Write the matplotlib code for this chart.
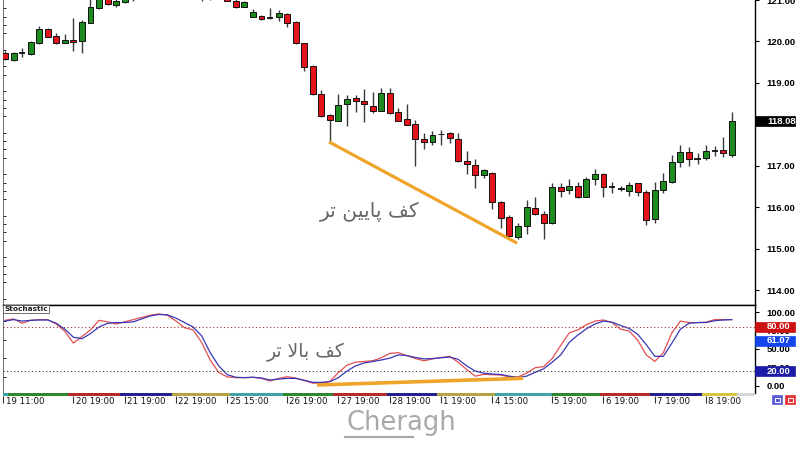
import matplotlib
matplotlib.use("Agg")
import matplotlib.pyplot as plt
import matplotlib.transforms as mtransforms
from matplotlib.patches import Rectangle
from matplotlib.lines import Line2D
from matplotlib.ticker import MultipleLocator, FixedFormatter

# --- candle data (4h bars, index 0 = 19 11:00) ---
opens = [119.73, 119.55, 119.72, 119.69, 119.96, 120.29, 120.13, 119.97, 120.04, 120.00,
         120.45, 120.80, 121.05, 120.88, 120.96, 121.05, 121.15, 121.25, 121.32, 121.28,
         121.20, 121.15, 121.12, 121.08, 121.07, 121.06, 121.05, 120.98, 120.84, 120.60,
         120.62, 120.56, 120.58, 120.66, 120.48, 119.96, 119.41, 118.73, 118.23, 118.09,
         118.49, 118.63, 118.57, 118.45, 118.33, 118.77, 118.29, 118.13, 118.01, 117.65,
         117.57, 117.78, 117.80, 117.64, 117.12, 117.02, 116.78, 116.82, 116.13, 115.76,
         115.30, 115.55, 115.98, 115.84, 115.62, 116.49, 116.41, 116.52, 116.26, 116.69,
         116.81, 116.49, 116.46, 116.40, 116.58, 116.38, 115.72, 116.42, 116.62, 117.10,
         117.34, 117.16, 117.19, 117.37, 117.39, 117.27]
highs = [119.76, 119.74, 119.84, 120.00, 120.37, 120.33, 120.20, 120.17, 120.57, 120.53,
         121.05, 121.15, 121.10, 121.05, 121.10, 121.20, 121.30, 121.40, 121.42, 121.35,
         121.30, 121.25, 121.20, 121.15, 121.14, 121.18, 121.10, 121.05, 120.97, 120.78,
         120.64, 120.80, 120.76, 120.68, 120.49, 119.97, 119.43, 118.83, 118.26, 118.73,
         118.71, 118.71, 118.85, 118.79, 118.87, 118.87, 118.39, 118.49, 118.11, 117.79,
         117.85, 117.87, 117.83, 117.79, 117.36, 117.16, 116.92, 116.86, 116.15, 115.82,
         115.63, 116.18, 116.26, 115.92, 116.58, 116.58, 116.68, 116.62, 116.74, 116.92,
         116.84, 116.61, 116.52, 116.62, 116.59, 116.42, 116.62, 116.84, 117.27, 117.51,
         117.45, 117.31, 117.51, 117.47, 117.71, 118.31]
lows = [119.55, 119.53, 119.62, 119.67, 119.93, 120.10, 119.93, 119.96, 119.77, 119.72,
        120.44, 120.78, 120.88, 120.84, 120.93, 120.97, 121.08, 121.18, 121.22, 121.15,
        121.10, 121.06, 121.04, 120.98, 120.99, 121.03, 120.97, 120.80, 120.83, 120.58,
        120.53, 120.55, 120.50, 120.36, 119.93, 119.30, 118.70, 118.18, 117.59, 118.08,
        117.97, 118.31, 118.07, 118.28, 118.32, 118.26, 118.08, 117.98, 117.00, 117.40,
        117.51, 117.51, 117.55, 117.10, 116.80, 116.46, 116.70, 115.96, 115.51, 115.30,
        115.24, 115.35, 115.83, 115.24, 115.61, 116.26, 116.33, 116.22, 116.25, 116.54,
        116.25, 116.36, 116.40, 116.28, 116.28, 115.58, 115.62, 116.36, 116.60, 116.97,
        117.00, 117.05, 117.14, 117.24, 117.21, 117.21]
closes = [119.58, 119.72, 119.71, 119.98, 120.29, 120.12, 119.97, 120.04, 119.99, 120.48,
          120.84, 121.02, 120.90, 120.98, 121.05, 121.15, 121.25, 121.32, 121.28, 121.20,
          121.15, 121.12, 121.08, 121.07, 121.06, 121.10, 120.98, 120.84, 120.95, 120.72,
          120.54, 120.56, 120.68, 120.45, 119.96, 119.39, 118.73, 118.20, 118.12, 118.47,
          118.61, 118.57, 118.49, 118.33, 118.77, 118.27, 118.09, 117.99, 117.64, 117.59,
          117.75, 117.76, 117.67, 117.12, 117.04, 116.78, 116.90, 116.13, 115.75, 115.32,
          115.55, 116.00, 115.84, 115.62, 116.49, 116.40, 116.52, 116.25, 116.68, 116.81,
          116.49, 116.49, 116.44, 116.54, 116.38, 115.70, 116.42, 116.65, 117.10, 117.33,
          117.16, 117.16, 117.37, 117.37, 117.31, 118.08]

# --- stochastic (%K red, %D blue) per bar ---
stoch_k = [89, 91, 85, 89, 90, 90, 84, 74, 58, 67, 76, 89, 87, 84, 87, 90, 93, 96, 97.7, 96,
           88, 79, 76, 59, 35, 18, 12, 11, 11, 11.5, 10, 6.4, 10, 12.3, 10.5, 7, 3.5, 3.5, 6, 18,
           28, 32, 33, 34, 38, 44, 45, 41, 37, 34, 36.5, 38.5, 40, 32, 22, 13, 15.5, 15, 14.5, 12,
           12, 17, 24.5, 26, 37, 55, 72, 76, 83, 88, 89.5, 86, 77, 74.5, 62, 42, 33, 45, 72, 88,
           86, 86, 86.5, 90, 90, 90]
stoch_d = [88, 90, 88, 89, 89.5, 89.5, 85, 77, 66, 64, 71, 80, 85, 86, 86, 87, 91, 95, 97, 96.5,
           92, 86, 80, 68, 45, 27, 15, 11.5, 11, 11.5, 10.5, 7.8, 9, 10, 10, 7.5, 4.6, 4.6, 5.5, 11,
           20, 27, 31, 33, 35, 37.5, 42, 41, 38.5, 36.5, 37, 38, 39, 36, 27, 20, 17, 16, 15.3, 13,
           11.3, 13, 18.2, 23, 32, 42, 59, 69, 77.5, 84, 88, 86.5, 82, 78, 70, 56, 40, 40, 58, 77,
           85, 86, 86, 88.5, 89.5, 90]

price_ticks = [114, 115, 116, 117, 118, 119, 120, 121]
price_tick_labels = ["114.00", "115.00", "116.00", "117.00", "", "119.00", "120.00", "121.00"]
stoch_ticks = [0, 25, 50, 75, 100]
stoch_tick_labels = ["0.00", "25.00", "50.00", "75.00", "100.00"]

day_labels = ["19 11:00", "20 19:00", "21 19:00", "22 19:00", "25 15:00", "26 19:00", "27 19:00",
              "28 19:00", "1 19:00", "4 15:00", "5 19:00", "6 19:00", "7 19:00", "8 19:00"]
day_pos = [-0.2, 8, 14, 20, 26, 33, 39, 45, 51, 57, 64, 70, 76, 82]

session_edges = [-0.25, 0.35, 7.4, 13.45, 19.5, 26.3, 32.5, 38.4, 44.7, 50.5, 57.3, 64.0,
                 69.6, 75.4, 81.5, 85.6, 87.8]
session_colors = ["#3ea3ad", "#2c8a2c", "#b52a2a", "#22228f", "#b4a444", "#3ea3ad", "#2c8a2c",
                  "#b52a2a", "#22228f", "#b4a444", "#3ea3ad", "#2c8a2c", "#b52a2a", "#22228f",
                  "#d8c63e", "#d6d6d6"]

last_price = 118.08
stoch_marks = [80.00, 61.07, 20.00]
stoch_mark_colors = ["#cc1111", "#1446ee", "#1c1ca6"]

# Persian labels, written as presentation forms in visual order (matplotlib has no shaping)
lower_low = "\uFEAE\uFE97 \uFEE6\uFBFF\uFBFE\uFE8E\uFB58 \uFED2\uFB90"   # کف پایین تر
higher_low = "\uFEAE\uFE97 \uFEFB\uFE8E\uFE91 \uFED2\uFB90"              # کف بالا تر

GREEN = "#1f8a1f"
RED = "#e3141b"
ORANGE = "#eea52a"
LABEL_FONT = dict(family="Liberation Sans", fontweight="bold", fontsize=6.8)

fig = plt.figure(figsize=(8, 4.5), dpi=100)
W, H = 800.0, 450.0
x0, x1 = 3, 755
ax = fig.add_axes([x0 / W, 1 - 305 / H, (x1 - x0) / W, 305 / H])
ax2 = fig.add_axes([x0 / W, 1 - 393 / H, (x1 - x0) / W, 88 / H])
axb = fig.add_axes([x0 / W, 1 - 396 / H, (x1 - x0) / W, 3 / H])

xlim = (-0.234, 87.72)
box_w = 40 / (x1 - x0)      # value boxes run from the axis to ~x=795px
text_x = 1 + 12 / (x1 - x0)


def value_box(a, y, half, txt, col):
    bl = mtransforms.blended_transform_factory(a.transAxes, a.transData)
    a.add_patch(Rectangle((1.0, y - half), box_w, 2 * half, transform=bl, fc=col, ec=col,
                          lw=0.5, clip_on=False, zorder=5))
    a.text(text_x, y, txt, transform=bl, ha="left", va="center", color="white",
           zorder=6, **LABEL_FONT)


def style_right_axis(a, ticks, labels):
    a.yaxis.tick_right()
    a.set_yticks(ticks)
    a.yaxis.set_major_formatter(FixedFormatter(labels))
    a.tick_params(axis="y", which="major", right=True, left=False, length=3, width=0.8, pad=5.5)
    a.tick_params(axis="y", which="minor", left=True, right=False, direction="in",
                  length=2, width=0.6)
    for lab in a.get_yticklabels():
        lab.set_family(LABEL_FONT["family"])
        lab.set_fontweight("bold")
        lab.set_fontsize(LABEL_FONT["fontsize"])
    a.set_xticks([])
    a.spines["left"].set_color("#555555")
    a.spines["left"].set_linewidth(0.6)
    a.spines["right"].set_linewidth(1.0)


# --- candles ---
for i, (o, h, l, c) in enumerate(zip(opens, highs, lows, closes)):
    ax.vlines(i, l, h, color="#3a3a3a", lw=1.0, zorder=2)
    if abs(c - o) < 0.015:
        ax.hlines(o, i - 0.36, i + 0.36, color="#111111", lw=1.3, zorder=3)
    else:
        col = GREEN if c > o else RED
        ax.bar(i, abs(c - o), bottom=min(o, c), width=0.7, color=col,
               edgecolor="#111111", linewidth=0.7, zorder=3)

ax.plot([37.9, 59.9], [117.58, 115.14], color=ORANGE, lw=2.3, solid_capstyle="butt", zorder=4)
ax.text(42.7, 115.89, lower_low, family=["DejaVu Sans"], fontsize=14.5, color="#666666",
        ha="center", va="center")

ax.set_xlim(*xlim)
ax.set_ylim(113.65, 121.0)
ax.yaxis.set_minor_locator(MultipleLocator(0.2))
style_right_axis(ax, price_ticks, price_tick_labels)
ax.spines["top"].set_visible(False)
ax.spines["bottom"].set_linewidth(1.0)
value_box(ax, last_price, 0.125, f"{last_price:.2f}", "black")

# --- stochastic ---
idx = list(range(len(stoch_k)))
ax2.plot(idx, stoch_k, color="#e25052", lw=0.9)
ax2.plot(idx, stoch_d, color="#3838b8", lw=0.9)
ax2.axhline(80, color="#a03030", lw=0.8, ls=(0, (1, 2.2)))
ax2.axhline(20, color="#333333", lw=0.8, ls=(0, (1, 2.2)))
ax2.plot([36.5, 60.6], [1.0, 10.1], color=ORANGE, lw=2.6, solid_capstyle="butt")
ax2.text(35.2, 45.9, higher_low, family=["DejaVu Sans"], fontsize=13.5, color="#666666",
         ha="center", va="center")

ax2.set_xlim(*xlim)
ax2.set_ylim(-9.9, 109.9)
ax2.yaxis.set_minor_locator(MultipleLocator(12.5))
style_right_axis(ax2, stoch_ticks, stoch_tick_labels)
ax2.spines["top"].set_linewidth(1.0)
ax2.spines["bottom"].set_visible(False)
for v, col in zip(stoch_marks, stoch_mark_colors):
    value_box(ax2, v, 6.8, f"{v:.2f}", col)

ax2.text(0.002, 0.985, "Stochastic", transform=ax2.transAxes, ha="left", va="top",
         fontsize=5.3, fontweight="bold", color="#222222",
         bbox=dict(boxstyle="square,pad=0.15", fc="white", ec="#555555", lw=0.6))

# --- session colour strip + time labels ---
for a, b, col in zip(session_edges[:-1], session_edges[1:], session_colors):
    axb.axvspan(a, b, color=col, lw=0)
axb.set_xlim(*xlim)
axb.set_ylim(0, 1)
axb.set_yticks([])
for s in axb.spines.values():
    s.set_visible(False)
axb.set_xticks(day_pos)
axb.set_xticklabels([])
axb.tick_params(axis="x", direction="out", length=5, width=0.8, color="#333333")
for p, lab in zip(day_pos, day_labels):
    axb.annotate(lab, xy=(p, 0), xycoords=("data", "axes fraction"), xytext=(1.6, -0.6),
                 textcoords="offset points", ha="left", va="top", fontsize=6.2, color="#111111")

# small buttons bottom right
for xl, col in [(772, "#5a5ad6"), (785, "#e23434")]:
    fig.add_artist(Rectangle((xl / W, 1 - 404 / H), 10 / W, 9 / H, transform=fig.transFigure,
                             fc=col, ec=col, lw=0.5))
    fig.add_artist(Rectangle(((xl + 2.5) / W, 1 - 401.5 / H), 5 / W, 4 / H,
                             transform=fig.transFigure, fc="none", ec="white", lw=0.7))

# watermark
fig.text(401 / W, 1 - 430 / H, "Cheragh", ha="center", va="baseline", fontsize=18.5,
         color="#a9a9a9", family="DejaVu Sans")
fig.add_artist(Line2D([345 / W, 413 / W], [1 - 436.7 / H] * 2, transform=fig.transFigure,
                      color="#a9a9a9", lw=1.6))

fig.savefig("out.png", dpi=100)
